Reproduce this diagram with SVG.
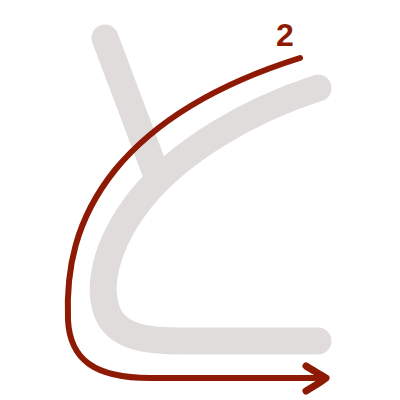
<svg xmlns="http://www.w3.org/2000/svg" width="400" height="400" viewBox="0 0 400 400">
<style>
.g{fill:none;stroke:#e0dcdc;stroke-width:27;stroke-linecap:round;stroke-linejoin:round}
.r{fill:none;stroke:#8e1a05;stroke-width:6;stroke-linecap:round}
</style>
<rect width="400" height="400" fill="#fff"/>
<g id="stroke1"><path class="g" d="M105,38 L157,176"/></g>
<g id="stroke2"><path class="g" d="M318,88 C250,110 180,150 140,200 C105,245 95,290 110,318 C122,338 150,341 180,341 L318,341"/></g>
<g id="connectors">
<path class="r" d="M300,58 C230,80 160,115 115,170 C75,220 66,270 68,320 C70,360 95,378 150,378 L318,378"/>
<path d="M306,366 C312,370 320,374 326,378 C320,383 312,387 306,391" fill="none" stroke="#8e1a05" stroke-width="7" stroke-linecap="round" stroke-linejoin="round"/>
</g>
<g id="label"><text x="285" y="46" font-family="Liberation Sans, sans-serif" font-weight="bold" font-size="32" fill="#8e1a05" text-anchor="middle">2</text></g>
</svg>
